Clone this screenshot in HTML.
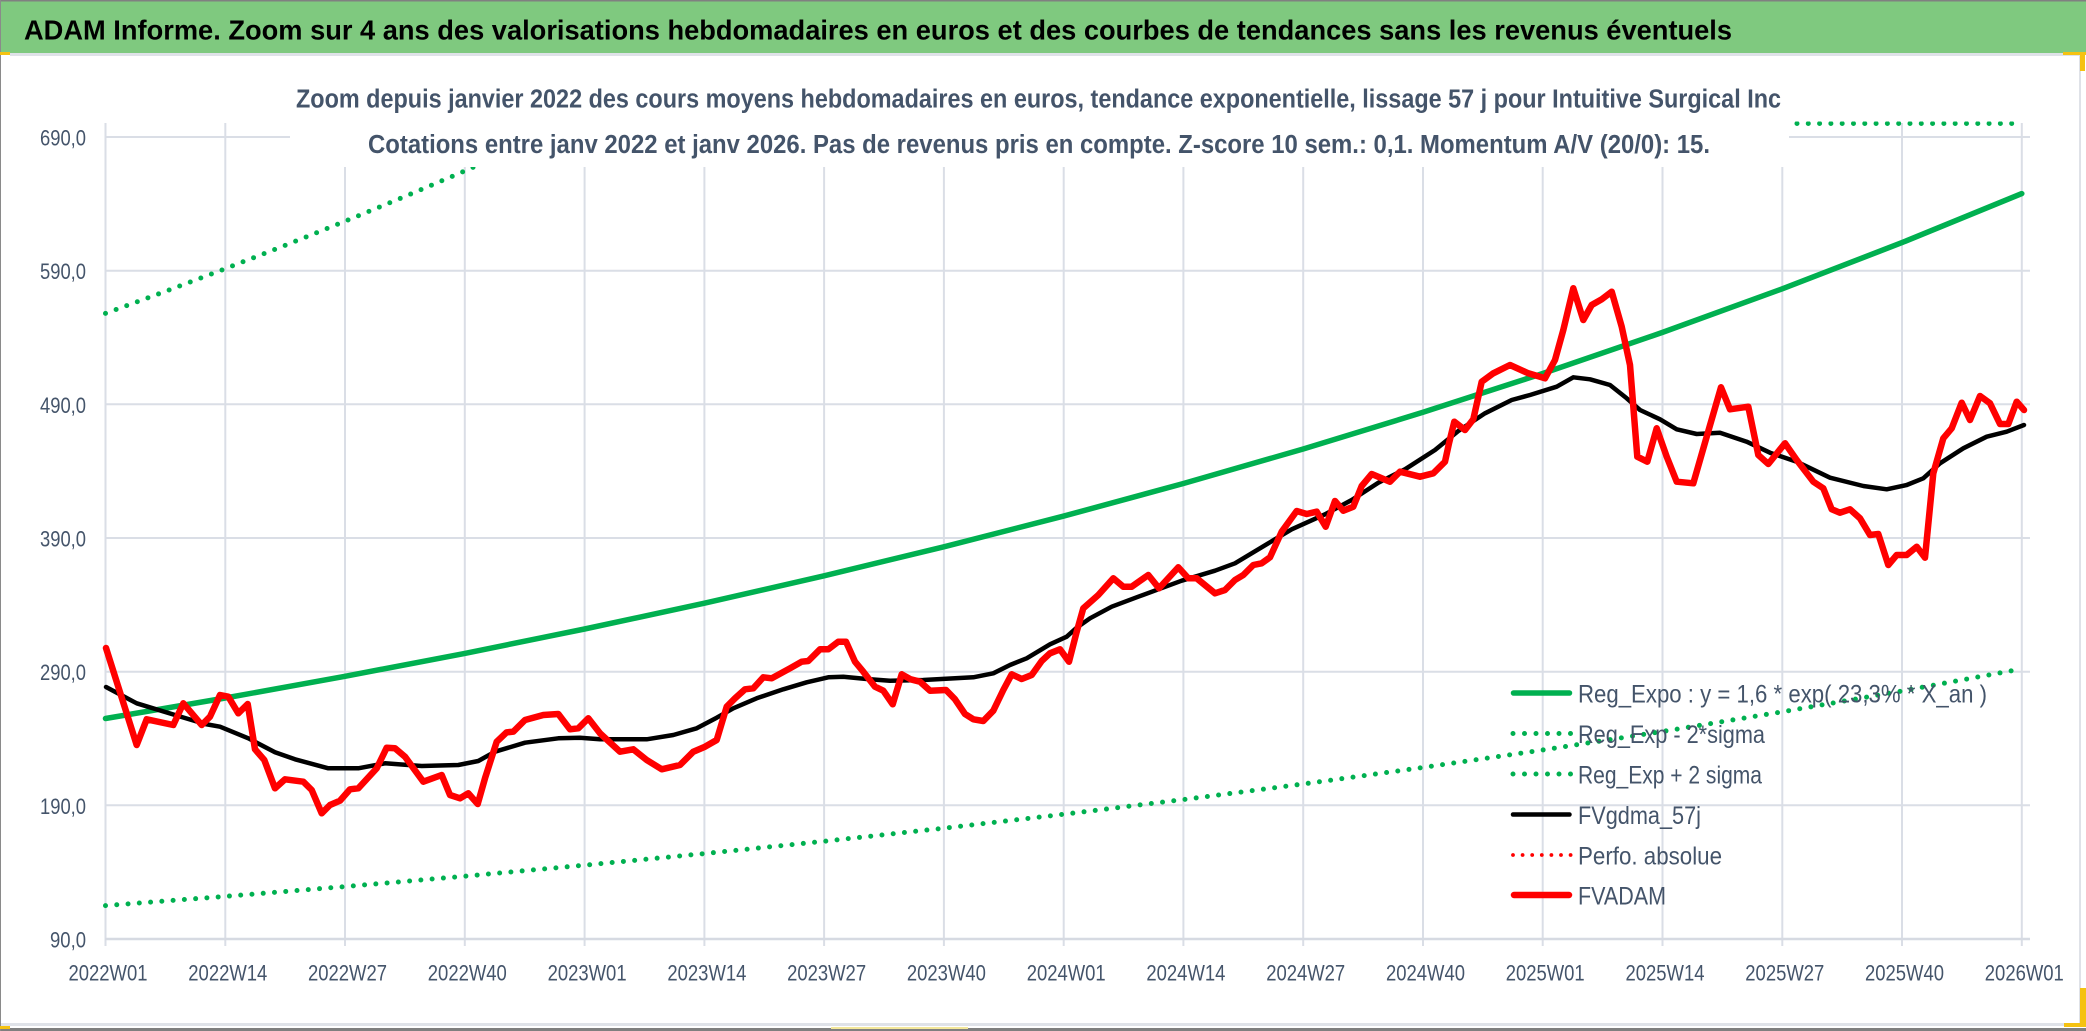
<!DOCTYPE html>
<html>
<head>
<meta charset="utf-8">
<style>
  html,body{margin:0;padding:0;background:#fff;}
  svg{display:block;}
  .ax{font-family:"Liberation Sans Narrow","Liberation Sans",sans-serif;font-size:22px;fill:#44546A;}
  .lg{font-family:"Liberation Sans Narrow","Liberation Sans",sans-serif;font-size:25px;fill:#44546A;}
  .st{font-family:"Liberation Sans Narrow","Liberation Sans",sans-serif;font-size:25.5px;font-weight:bold;fill:#44546A;}
  .tt{font-family:"Liberation Sans Narrow","Liberation Sans",sans-serif;font-size:28px;font-weight:bold;fill:#000;}
</style>
</head>
<body>
<svg width="2086" height="1031" viewBox="0 0 2086 1031" xmlns="http://www.w3.org/2000/svg">
  <defs>
    <clipPath id="plot"><rect x="95" y="121.5" width="1945" height="830"/></clipPath>
  </defs>
  <rect x="0" y="0" width="2086" height="1031" fill="#fff"/>

  <!-- Title bar -->
  <rect x="0" y="0" width="2086" height="53" fill="#7FC97F"/>
  <rect x="0" y="0" width="2086" height="1.5" fill="#808080"/>
  <text class="tt" x="24" y="39.5" textLength="1708" lengthAdjust="spacingAndGlyphs">ADAM Informe. Zoom sur 4 ans des valorisations hebdomadaires en euros et des courbes de tendances sans les revenus éventuels</text>

  <!-- frame lines -->
  <rect x="10" y="53" width="2069" height="3" fill="#dfe2e8"/>
  <rect x="2079" y="53" width="2" height="973" fill="#dfe2e8"/>
  <rect x="0" y="1023" width="2080" height="3" fill="#dfe2e8"/>
  <rect x="0" y="1028" width="2086" height="3" fill="#7f7f7f"/>
  <rect x="0" y="0" width="1" height="1031" fill="#8a8a8a"/>
  <!-- yellow handles -->
  <rect x="0" y="52" width="10" height="3" fill="#F5C211"/>
  <rect x="2063" y="52" width="23" height="3" fill="#F5C211"/>
  <rect x="2080" y="52" width="5" height="19" fill="#F5C211"/>
  <rect x="2080" y="988" width="6" height="38" fill="#F5C211"/>
  <rect x="2064" y="1023" width="22" height="4" fill="#F5C211"/>
  <rect x="0" y="1026" width="10" height="3" fill="#F5C211"/>
  <rect x="831" y="1027" width="137" height="2" fill="#f3e79a"/>

  <!-- gridlines -->
  <g stroke="#dadee6" stroke-width="2" fill="none">
    <line x1="105" y1="137" x2="2030" y2="137"/>
    <line x1="105" y1="270.7" x2="2030" y2="270.7"/>
    <line x1="105" y1="404.3" x2="2030" y2="404.3"/>
    <line x1="105" y1="538" x2="2030" y2="538"/>
    <line x1="105" y1="671.7" x2="2030" y2="671.7"/>
    <line x1="105" y1="805.3" x2="2030" y2="805.3"/>
    <line x1="105.5" y1="123" x2="105.5" y2="946"/>
    <line x1="225.3" y1="123" x2="225.3" y2="946"/>
    <line x1="345.0" y1="123" x2="345.0" y2="946"/>
    <line x1="464.8" y1="123" x2="464.8" y2="946"/>
    <line x1="584.6" y1="123" x2="584.6" y2="946"/>
    <line x1="704.4" y1="123" x2="704.4" y2="946"/>
    <line x1="824.1" y1="123" x2="824.1" y2="946"/>
    <line x1="943.9" y1="123" x2="943.9" y2="946"/>
    <line x1="1063.7" y1="123" x2="1063.7" y2="946"/>
    <line x1="1183.4" y1="123" x2="1183.4" y2="946"/>
    <line x1="1303.2" y1="123" x2="1303.2" y2="946"/>
    <line x1="1423.0" y1="123" x2="1423.0" y2="946"/>
    <line x1="1542.7" y1="123" x2="1542.7" y2="946"/>
    <line x1="1662.5" y1="123" x2="1662.5" y2="946"/>
    <line x1="1782.3" y1="123" x2="1782.3" y2="946"/>
    <line x1="1902.0" y1="123" x2="1902.0" y2="946"/>
    <line x1="2021.8" y1="123" x2="2021.8" y2="946"/>
  </g>
  <line x1="105" y1="939" x2="2030" y2="939" stroke="#d6dae2" stroke-width="2.6"/>

  <g clip-path="url(#plot)" fill="none" stroke-linejoin="round">
    <!-- upper dotted -->
    <polyline stroke="#00B050" stroke-width="5" stroke-linecap="round" stroke-dasharray="0 11.3"
      points="105.5,313.4 165.4,291.4 225.3,268.7 285.1,245.4 345.0,221.3 404.9,196.5 464.8,171.0 524.7,144.7 570.7,123.5 2021.8,123.5"/>
  </g>

  <!-- chart title box (hides top area) -->
  <rect x="290" y="118" width="1499" height="49" fill="#fff"/>
  <text class="st" x="296" y="107.5" textLength="1485" lengthAdjust="spacingAndGlyphs">Zoom depuis janvier 2022 des cours moyens hebdomadaires en euros, tendance exponentielle, lissage 57 j pour Intuitive Surgical Inc</text>
  <text class="st" x="368" y="153" textLength="1342" lengthAdjust="spacingAndGlyphs">Cotations entre janv 2022 et janv 2026. Pas de revenus pris en compte. Z-score 10 sem.: 0,1. Momentum A/V (20/0): 15.</text>

  <g clip-path="url(#plot)" fill="none" stroke-linejoin="round">
    <!-- Reg_Expo -->
    <polyline stroke="#00B050" stroke-width="5.5" stroke-linecap="round"
      points="105.5,718.5 225.3,698.0 345.0,676.3 464.8,653.4 584.6,629.0 704.4,603.2 824.1,575.8 943.9,546.8 1063.7,516.1 1183.4,483.5 1303.2,449.0 1423.0,412.3 1542.7,373.5 1662.5,332.4 1782.3,288.8 1902.0,242.6 2021.8,193.6"/>
    <!-- lower dotted -->
    <polyline stroke="#00B050" stroke-width="5" stroke-linecap="round" stroke-dasharray="0 11.3"
      points="105.5,905.6 225.3,896.4 345.0,886.6 464.8,876.2 584.6,865.2 704.4,853.6 824.1,841.3 943.9,828.2 1063.7,814.3 1183.4,799.6 1303.2,784.0 1423.0,767.5 1542.7,750.0 1662.5,731.5 1782.3,711.8 1902.0,691.0 2021.8,668.9"/>
    <!-- FVgdma_57j -->
    <polyline stroke="#000" stroke-width="4.5" stroke-linecap="round"
      points="106,687 136.7,703.3 178.3,716 205,724 220,726.7 248.3,738.3 275,752.3 295,759.3 328.3,768.3 358.3,768.3 385,763.3 421.7,766 458.3,765 478.3,761 495,751.7 525,742.7 558.3,738.3 580,737.7 600,739.3 646.7,739.3 673.3,735 696.7,728.3 716.7,717.7 733.3,708.3 756.7,698.3 783.3,689.3 806.7,682.3 828.3,677.3 843.3,676.7 866.7,679 890,680.7 923.3,680 973.3,677.3 993.3,673.3 1010,665 1026.7,658.3 1050,644.3 1066.7,636.7 1076.7,627.7 1090,618.3 1111.7,606.7 1138.3,596.7 1181.7,580.7 1215,570.7 1235,563.3 1268.3,543.3 1291.7,529.3 1325,514.3 1351.7,500 1378.3,482.7 1405,469.3 1435,450 1458.3,431 1485,413.3 1511.7,400 1530,395 1556.7,386.7 1573.3,377.3 1590,379.3 1610,385 1626.7,398.3 1640,410 1660,419.3 1676.7,429.3 1696.7,434 1720,432.7 1746.7,441.7 1770,452.7 1796.7,461.7 1830,477.7 1863.3,486 1886.7,489.3 1906.7,485 1923.3,478.3 1940,463.3 1963.3,448.3 1986.7,436.7 2006.7,431.7 2024,425"/>
    <!-- FVADAM -->
    <polyline stroke="#FF0000" stroke-width="6.5" stroke-linecap="round"
      points="106,648 136.7,745 146.7,719.3 173.3,725 183.3,703.3 201.7,725 210,716.7 220,695 228.3,696.7 238.3,713.3 247.7,704 255,749.3 264.3,760 275,788.3 285,779.3 303.3,781.7 311.7,790 321.7,813.3 330,805 340,800.7 350,789.3 358.3,788.3 376.7,768.3 386.7,747.7 395,748.3 405,756.7 423.3,781.7 441.7,775 450,795 460,798.3 468.3,793.3 477.7,804 485,778.3 496.7,741.7 506.7,732.3 513.3,731.7 525,720 543.3,715 558.3,714 570,729.3 578.3,728.3 588.3,718.3 600,733.3 620,751.7 633.3,749.3 646.7,760 661.7,769.3 680,765 693.3,751.7 705,746.7 716.7,740 726.7,706.7 735,698.3 745,689.3 753.3,688.3 763.3,677.3 771.7,678.3 790,668.3 801.7,661.7 808.3,661 820,649.3 828.3,649.3 838.3,641.7 846,641.7 855,661.7 863.3,671.7 875,686.7 883.3,690.7 892.7,704.3 901.7,674.3 910.7,679.3 920,681.7 930,690.7 946,690 955,699.3 965,714 973.3,719.3 983.3,721 993.3,710.7 1003.3,690 1011.7,674.3 1021.7,679 1031.7,675 1041.7,661 1050,653.3 1060,649.3 1069,661.7 1076.7,631.7 1083.3,608.3 1098.3,595 1113.3,578.3 1123.3,586.7 1131.7,586.7 1148.3,575 1159,588.3 1178.3,567.3 1188.3,578.3 1196.7,578.3 1215,593.3 1225,590 1235,580 1243.3,575 1253.3,565 1261.7,563.3 1270,557.3 1281.7,531.7 1296.7,511 1306.7,514 1316.7,511.7 1325.7,526.7 1335,501 1343.3,510.7 1353.3,506.7 1361.7,486 1371.7,474 1390,481.7 1400,471.7 1420,476.7 1433.3,473.3 1445,461.7 1449,443.3 1454.3,421.7 1465,430 1473.3,419.3 1481.7,381.7 1493.3,373.3 1510,365 1528.3,373.3 1545,378.3 1555,360 1563.3,330 1573.3,288.3 1583.3,320 1591.7,305 1601.7,299.3 1611.7,291.7 1621.7,326.7 1630,365 1637.3,456.7 1647.3,461.7 1656.7,428.3 1666.7,456.7 1676.7,481.7 1693.3,483.3 1706.7,436.7 1721,387.3 1730,409.3 1748.3,406.7 1758.3,455 1768.3,464 1785,443.3 1796.7,460 1813.3,481.7 1823.3,488.3 1831.7,509.3 1840,512.7 1850,509.3 1860,518.3 1870,535 1878.3,534 1888.3,565 1896.7,555 1906.7,555 1916.7,546.7 1925,557.7 1933.3,473.3 1943.3,438.3 1951.7,428.3 1961.7,402.7 1970,420 1980,396 1990,403.3 2000,424 2008.3,424 2016.7,401.7 2024,410"/>
  </g>

  <!-- Y axis labels -->
  <text class="ax" x="40" y="145.5" textLength="46" lengthAdjust="spacingAndGlyphs">690,0</text>
  <text class="ax" x="40" y="279.2" textLength="46" lengthAdjust="spacingAndGlyphs">590,0</text>
  <text class="ax" x="40" y="412.8" textLength="46" lengthAdjust="spacingAndGlyphs">490,0</text>
  <text class="ax" x="40" y="546.5" textLength="46" lengthAdjust="spacingAndGlyphs">390,0</text>
  <text class="ax" x="40" y="680.2" textLength="46" lengthAdjust="spacingAndGlyphs">290,0</text>
  <text class="ax" x="40" y="813.8" textLength="46" lengthAdjust="spacingAndGlyphs">190,0</text>
  <text class="ax" x="50" y="947.5" textLength="36" lengthAdjust="spacingAndGlyphs">90,0</text>

  <!-- X axis labels -->
  <g class="ax">
    <text x="68.5" y="980.5" textLength="79" lengthAdjust="spacingAndGlyphs">2022W01</text>
    <text x="188.3" y="980.5" textLength="79" lengthAdjust="spacingAndGlyphs">2022W14</text>
    <text x="308.0" y="980.5" textLength="79" lengthAdjust="spacingAndGlyphs">2022W27</text>
    <text x="427.8" y="980.5" textLength="79" lengthAdjust="spacingAndGlyphs">2022W40</text>
    <text x="547.6" y="980.5" textLength="79" lengthAdjust="spacingAndGlyphs">2023W01</text>
    <text x="667.4" y="980.5" textLength="79" lengthAdjust="spacingAndGlyphs">2023W14</text>
    <text x="787.1" y="980.5" textLength="79" lengthAdjust="spacingAndGlyphs">2023W27</text>
    <text x="906.9" y="980.5" textLength="79" lengthAdjust="spacingAndGlyphs">2023W40</text>
    <text x="1026.7" y="980.5" textLength="79" lengthAdjust="spacingAndGlyphs">2024W01</text>
    <text x="1146.4" y="980.5" textLength="79" lengthAdjust="spacingAndGlyphs">2024W14</text>
    <text x="1266.2" y="980.5" textLength="79" lengthAdjust="spacingAndGlyphs">2024W27</text>
    <text x="1386.0" y="980.5" textLength="79" lengthAdjust="spacingAndGlyphs">2024W40</text>
    <text x="1505.7" y="980.5" textLength="79" lengthAdjust="spacingAndGlyphs">2025W01</text>
    <text x="1625.5" y="980.5" textLength="79" lengthAdjust="spacingAndGlyphs">2025W14</text>
    <text x="1745.3" y="980.5" textLength="79" lengthAdjust="spacingAndGlyphs">2025W27</text>
    <text x="1865.0" y="980.5" textLength="79" lengthAdjust="spacingAndGlyphs">2025W40</text>
    <text x="1984.8" y="980.5" textLength="79" lengthAdjust="spacingAndGlyphs">2026W01</text>
  </g>

  <!-- Legend -->
  <g fill="none">
    <line x1="1513.5" y1="693" x2="1569.5" y2="693" stroke="#00B050" stroke-width="5.5" stroke-linecap="round"/>
    <line x1="1513" y1="733.5" x2="1571" y2="733.5" stroke="#00B050" stroke-width="5" stroke-linecap="round" stroke-dasharray="0 11.5"/>
    <line x1="1513" y1="774" x2="1571" y2="774" stroke="#00B050" stroke-width="5" stroke-linecap="round" stroke-dasharray="0 11.5"/>
    <line x1="1513" y1="814.5" x2="1569.5" y2="814.5" stroke="#000" stroke-width="4.5" stroke-linecap="round"/>
    <line x1="1513" y1="855" x2="1571" y2="855" stroke="#FF0000" stroke-width="3.8" stroke-linecap="round" stroke-dasharray="0 9.6"/>
    <line x1="1514" y1="895" x2="1569" y2="895" stroke="#FF0000" stroke-width="6.5" stroke-linecap="round"/>
  </g>
  <g class="lg">
    <text x="1578" y="702.5" textLength="409" lengthAdjust="spacingAndGlyphs">Reg_Expo : y = 1,6 * exp( 23,3% * X_an )</text>
    <text x="1578" y="743" textLength="187" lengthAdjust="spacingAndGlyphs">Reg_Exp - 2*sigma</text>
    <text x="1578" y="783.5" textLength="184" lengthAdjust="spacingAndGlyphs">Reg_Exp + 2 sigma</text>
    <text x="1578" y="824" textLength="123" lengthAdjust="spacingAndGlyphs">FVgdma_57j</text>
    <text x="1578" y="864.5" textLength="144" lengthAdjust="spacingAndGlyphs">Perfo. absolue</text>
    <text x="1578" y="904.5" textLength="88" lengthAdjust="spacingAndGlyphs">FVADAM</text>
  </g>
</svg>
</body>
</html>
